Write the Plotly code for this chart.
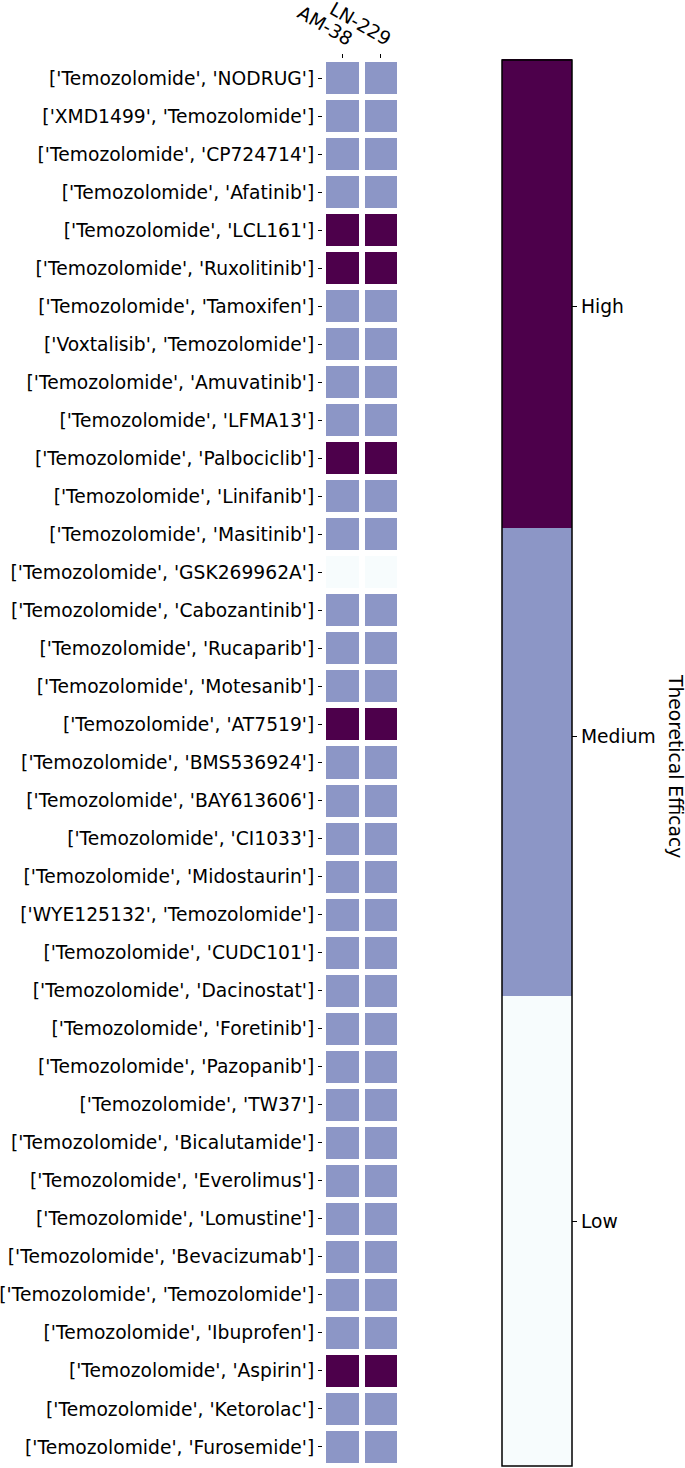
import plotly.graph_objects as go

cell_lines = ["AM-38", "LN-229"]
combos = [
    "['Temozolomide', 'NODRUG']",
    "['XMD1499', 'Temozolomide']",
    "['Temozolomide', 'CP724714']",
    "['Temozolomide', 'Afatinib']",
    "['Temozolomide', 'LCL161']",
    "['Temozolomide', 'Ruxolitinib']",
    "['Temozolomide', 'Tamoxifen']",
    "['Voxtalisib', 'Temozolomide']",
    "['Temozolomide', 'Amuvatinib']",
    "['Temozolomide', 'LFMA13']",
    "['Temozolomide', 'Palbociclib']",
    "['Temozolomide', 'Linifanib']",
    "['Temozolomide', 'Masitinib']",
    "['Temozolomide', 'GSK269962A']",
    "['Temozolomide', 'Cabozantinib']",
    "['Temozolomide', 'Rucaparib']",
    "['Temozolomide', 'Motesanib']",
    "['Temozolomide', 'AT7519']",
    "['Temozolomide', 'BMS536924']",
    "['Temozolomide', 'BAY613606']",
    "['Temozolomide', 'CI1033']",
    "['Temozolomide', 'Midostaurin']",
    "['WYE125132', 'Temozolomide']",
    "['Temozolomide', 'CUDC101']",
    "['Temozolomide', 'Dacinostat']",
    "['Temozolomide', 'Foretinib']",
    "['Temozolomide', 'Pazopanib']",
    "['Temozolomide', 'TW37']",
    "['Temozolomide', 'Bicalutamide']",
    "['Temozolomide', 'Everolimus']",
    "['Temozolomide', 'Lomustine']",
    "['Temozolomide', 'Bevacizumab']",
    "['Temozolomide', 'Temozolomide']",
    "['Temozolomide', 'Ibuprofen']",
    "['Temozolomide', 'Aspirin']",
    "['Temozolomide', 'Ketorolac']",
    "['Temozolomide', 'Furosemide']",
]
# efficacy level: 0 = Low, 1 = Medium, 2 = High
am38 = [1, 1, 1, 1, 2, 2, 1, 1, 1, 1, 2, 1, 1, 0, 1, 1, 1, 2, 1, 1, 1, 1, 1, 1, 1, 1, 1, 1, 1, 1, 1, 1, 1, 1, 2, 1, 1]
ln229 = [1, 1, 1, 1, 2, 2, 1, 1, 1, 1, 2, 1, 1, 0, 1, 1, 1, 2, 1, 1, 1, 1, 1, 1, 1, 1, 1, 1, 1, 1, 1, 1, 1, 1, 2, 1, 1]
level_names = ["Low", "Medium", "High"]
level_ticks = [0.347, 1.037, 1.649]

z = [[a, b] for a, b in zip(am38, ln229)]

c_low, c_med, c_high = "#f7fcfd", "#8c96c6", "#4d004b"
colorscale = [
    [0.0, c_low], [1 / 3, c_low],
    [1 / 3, c_med], [2 / 3, c_med],
    [2 / 3, c_high], [1.0, c_high],
]

W, H = 685, 1468
L, R, T, B = 323, 285, 59, 2
PW, PH = W - L - R, H - T - B
font = "DejaVu Sans"
fs = 18.7

fig = go.Figure(go.Heatmap(
    z=z, x=cell_lines, y=combos,
    zmin=0, zmax=2, colorscale=colorscale,
    xgap=6, ygap=6,
    colorbar=dict(
        x=(502 - L) / PW, xanchor="left",
        y=0.5, yanchor="middle",
        lenmode="pixels", len=1406,
        thickness=70,
        outlinecolor="black", outlinewidth=1.5,
        tickvals=level_ticks, ticktext=level_names,
        ticks="outside", ticklen=5, tickcolor="black",
        tickfont=dict(family=font, size=fs, color="black"),
        xpad=0, ypad=0,
    ),
))

fig.update_layout(
    width=W, height=H,
    margin=dict(l=L, r=R, t=T, b=B, autoexpand=False),
    plot_bgcolor="white", paper_bgcolor="white",
    font=dict(family=font, size=fs, color="black"),
    xaxis=dict(side="top", tickangle=30, ticks="outside", ticklen=4,
               tickcolor="black", showgrid=False, zeroline=False,
               ticklabelshift=10, ticklabelstandoff=-1,
               tickfont=dict(family=font, size=fs)),
    yaxis=dict(autorange="reversed", ticks="outside", ticklen=4,
               tickcolor="black", showgrid=False, zeroline=False,
               tickfont=dict(family=font, size=fs)),
    annotations=[dict(
        text="Theoretical Efficacy", textangle=90,
        xref="paper", yref="paper",
        x=(676 - L) / PW, y=(1466 - 766) / PH,
        xanchor="center", yanchor="middle",
        showarrow=False, font=dict(family=font, size=fs, color="black"),
    )],
)

fig.write_html(
    "out.html",
    config={"displayModeBar": False},
    post_script="document.body.style.margin='0';document.body.style.overflow='hidden';",
)
